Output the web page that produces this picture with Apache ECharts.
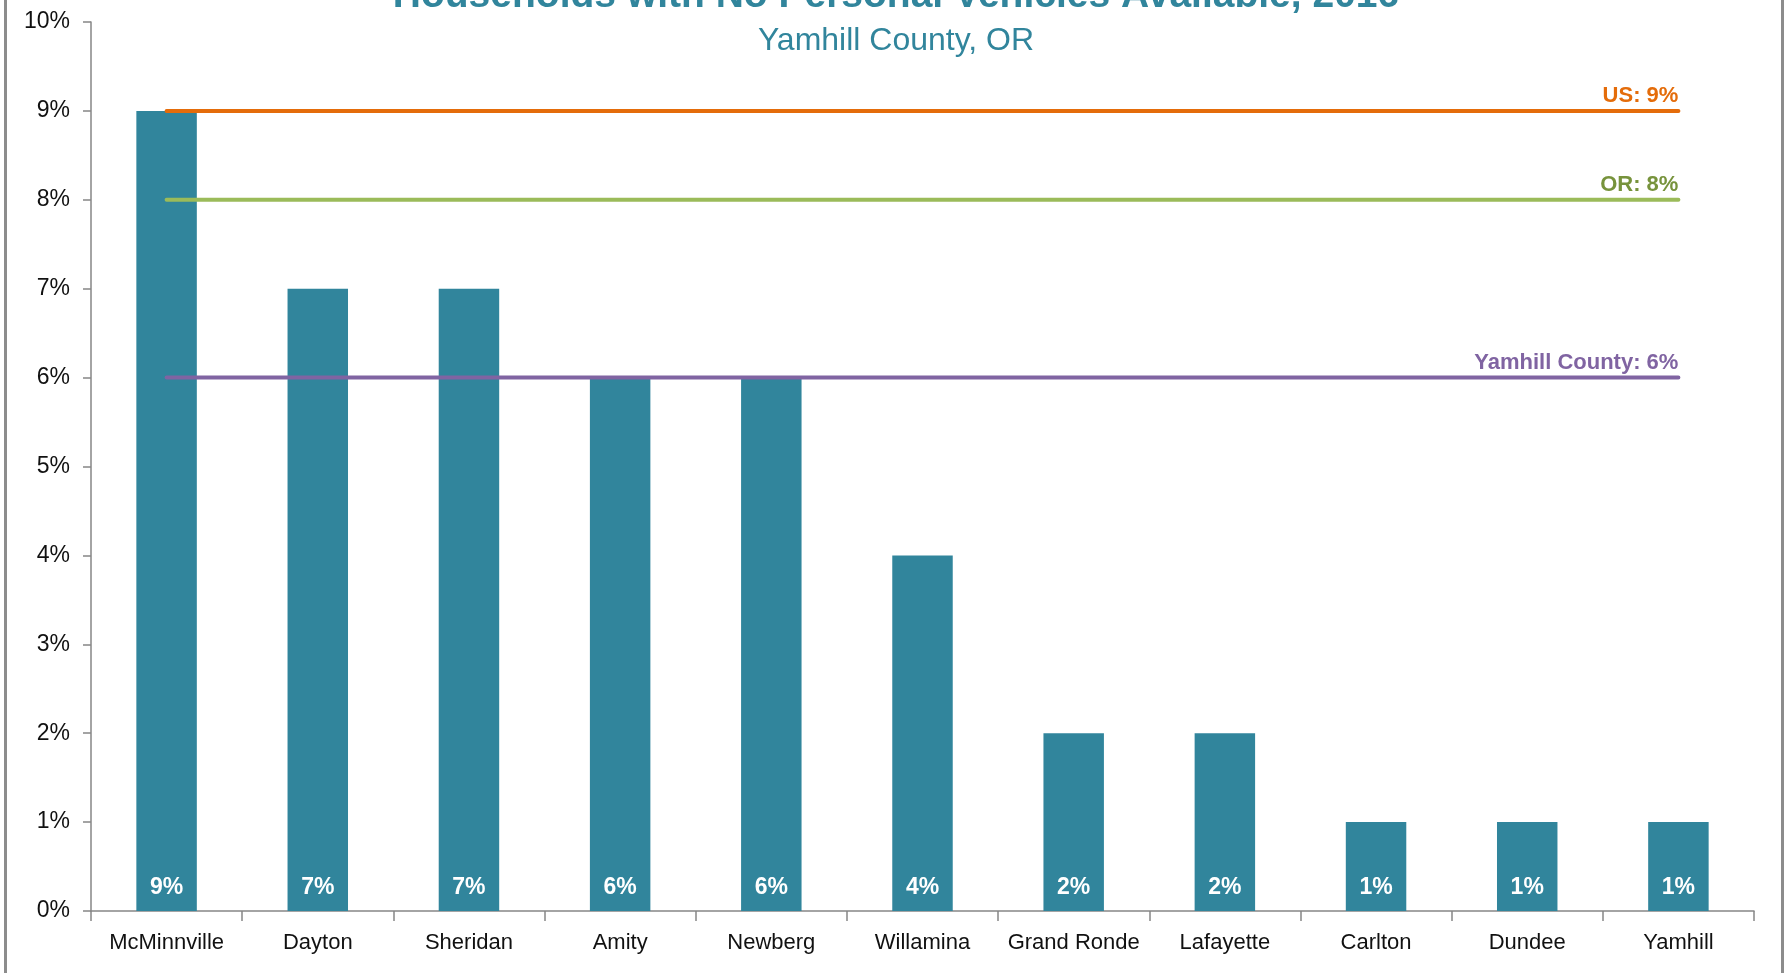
<!DOCTYPE html>
<html>
<head>
<meta charset="utf-8">
<title>Households with No Personal Vehicles Available</title>
<script src="https://cdn.jsdelivr.net/npm/echarts@6/dist/echarts.min.js"></script>
<style>
    html, body { margin: 0; padding: 0; background: #fff; overflow: hidden; }
    #chart { width: 1792px; height: 973px; }
    .frame {
        position: absolute; left: 4px; top: -10px; width: 1774px; height: 1000px;
        border-left: 3px solid #8c8c8c; border-right: 3px solid #8c8c8c;
        pointer-events: none;
    }
</style>
</head>
<body>
<div id="chart"></div>
<div class="frame"></div>
<script>
// 数据
var cities = ['McMinnville', 'Dayton', 'Sheridan', 'Amity', 'Newberg', 'Willamina',
    'Grand Ronde', 'Lafayette', 'Carlton', 'Dundee', 'Yamhill'];
var shares = [9, 7, 7, 6, 6, 4, 2, 2, 1, 1, 1];   // % of households
var usValue = 9;
var orValue = 8;
var countyValue = 6;
var yTicks = [0, 1, 2, 3, 4, 5, 6, 7, 8, 9, 10];

var font = "'Liberation Sans', Arial, sans-serif";

// 参考线: one value per category so the line runs from the first to the last bar
function refLine(name, value, lineColor, textColor) {
    var last = cities.length - 1;
    return {
        name: name,
        type: 'line',
        data: cities.map(function () { return value; }),
        symbol: 'circle',
        symbolSize: 0,
        z: 5,
        silent: true,
        lineStyle: { color: lineColor, width: 4, cap: 'round' },
        itemStyle: { color: lineColor },
        label: {
            show: true,
            position: 'top',
            align: 'right',
            distance: 4,
            color: textColor,
            fontFamily: font,
            fontWeight: 'bold',
            fontSize: 22,
            formatter: function (p) {
                return p.dataIndex === last ? name + ': ' + value + '%' : '';
            }
        }
    };
}

var myChart = echarts.init(document.getElementById('chart'));
var option = {
    animation: false,
    title: [
        {
            text: 'Households with No Personal Vehicles Available, 2016',
            left: 'center',
            top: -28,
            textStyle: { color: '#31859C', fontFamily: font, fontWeight: 'bold', fontSize: 39 }
        },
        {
            text: 'Yamhill County, OR',
            left: 'center',
            top: 20,
            textStyle: { color: '#31859C', fontFamily: font, fontWeight: 'normal', fontSize: 32 }
        }
    ],
    grid: {
        left: 91,
        right: 38,
        top: 22,
        bottom: 62,
        containLabel: false
    },
    xAxis: {
        type: 'category',
        data: cities,
        axisLine: { show: true, lineStyle: { color: '#868686', width: 1.5 } },
        axisTick: { show: true, length: 10, lineStyle: { color: '#868686', width: 1.5 } },
        axisLabel: { color: '#111', fontFamily: font, fontSize: 22, margin: 21, interval: 0 }
    },
    yAxis: {
        type: 'value',
        min: yTicks[0],
        max: yTicks[yTicks.length - 1],
        interval: 1,
        splitLine: { show: false },
        axisLine: { show: true, lineStyle: { color: '#868686', width: 1.5 } },
        axisTick: { show: true, length: 8, lineStyle: { color: '#868686', width: 1.5 } },
        axisLabel: { color: '#111', fontFamily: font, fontSize: 23, margin: 21, formatter: '{value}%' }
    },
    series: [
        {
            name: 'Households',
            type: 'bar',
            data: shares,
            barWidth: '40%',
            itemStyle: { color: '#31859C' },
            label: {
                show: true,
                position: 'insideBottom',
                distance: 12,
                color: '#fff',
                fontFamily: font,
                fontWeight: 'bold',
                fontSize: 23,
                formatter: '{c}%'
            }
        },
        refLine('US', usValue, '#E46C0A', '#E46C0A'),
        refLine('OR', orValue, '#9BBB59', '#77933C'),
        refLine('Yamhill County', countyValue, '#8064A2', '#8064A2')
    ]
};
myChart.setOption(option);
window.addEventListener('resize', function () {
    myChart.resize();
});
</script>
</body>
</html>
